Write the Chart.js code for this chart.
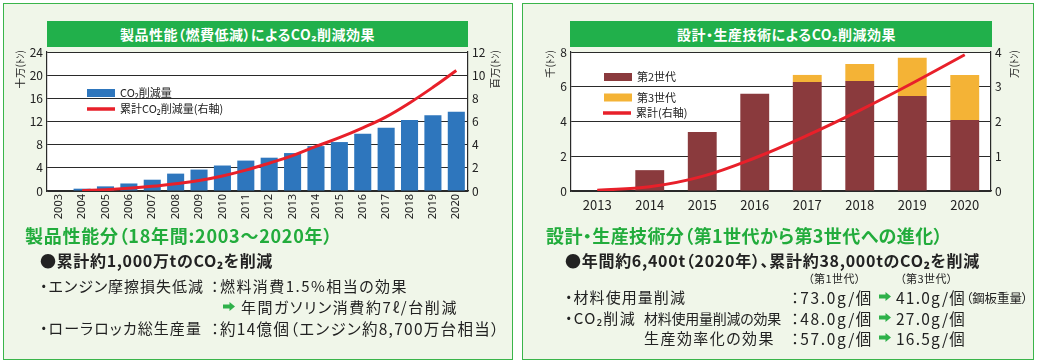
<!DOCTYPE html>
<html lang="ja">
<head>
<meta charset="utf-8">
<script src="https://cdn.jsdelivr.net/npm/chart.js@4.4.1/dist/chart.umd.min.js"></script>
<style>
  body { margin: 0; width: 1038px; height: 362px; background: #fff; position: relative; overflow: hidden;
         font-family: 'Noto Sans CJK JP', 'Noto Sans', sans-serif; color: #222; font-feature-settings: "palt"; }
  .panel { position: absolute; top: 3px; height: 357px; box-sizing: border-box; border: 1.5px solid #3ab54a; background: #f0f6e9; }
  .hdr { position: absolute; top: 21px; height: 26px; line-height: 26px; background: #21b04b; color: #fff;
         font-weight: bold; font-size: 14px; }
  .hdr span { position: absolute; white-space: nowrap; top: 0; }
  canvas { position: absolute; top: 0; }
  .t { position: absolute; white-space: nowrap; line-height: 20px; font-size: 15px; }
  .g { color: #22ac3c; font-weight: bold; font-size: 18px; }
  .b { font-weight: bold; font-size: 16px; }
  .s { font-size: 11px; line-height: 16px; }
  .v { font-size: 15.5px; }
  .arr { position: absolute; }
</style>
</head>
<body>
<div class="panel" style="left:3px;width:510px"></div>
<div class="panel" style="left:522px;width:512px"></div>
<div class="hdr" style="left:47px;width:421px"><span data-x0="73" data-x1="328">製品性能（燃費低減）によるCO₂削減効果</span></div>
<div class="hdr" style="left:570px;width:422px"><span data-x0="107" data-x1="326">設計・生産技術によるCO₂削減効果</span></div>

<canvas id="chart-left" width="519" height="240" style="left:0"></canvas>
<canvas id="chart-right" width="519" height="240" style="left:519px"></canvas>

<div class="t g" style="top:225px" data-x0="25" data-x1="333">製品性能分（18年間:2003～2020年）</div>
<div class="t b" style="top:250px" data-x0="40" data-x1="273">●累計約1,000万tのCO₂を削減</div>
<div class="t" style="top:276px" data-x0="40" data-x1="204">・エンジン摩擦損失低減</div>
<div class="t" style="top:276px" data-x0="211" data-x1="408">：燃料消費1.5%相当の効果</div>
<svg class="arr" style="left:223px;top:302px" width="12" height="9"><path d="M0 2.5h6.5V0l5.5 4.5-5.5 4.5V6.5H0z" fill="#2fb14a"/></svg>
<div class="t" style="top:297px" data-x0="241" data-x1="458">年間ガソリン消費約7ℓ/台削減</div>
<div class="t" style="top:318px" data-x0="40" data-x1="202">・ローラロッカ総生産量</div>
<div class="t" style="top:318px;font-size:15.5px" data-x0="211" data-x1="500">：約14億個（エンジン約8,700万台相当）</div>

<div class="t g" style="top:225px" data-x0="546" data-x1="943">設計・生産技術分（第1世代から第3世代への進化）</div>
<div class="t b" style="top:250px" data-x0="565" data-x1="980">●年間約6,400t（2020年）、累計約38,000tのCO₂を削減</div>
<div class="t s" style="top:270px" data-x0="808" data-x1="861">（第1世代）</div>
<div class="t s" style="top:270px" data-x0="900" data-x1="953">（第3世代）</div>

<div class="t" style="top:287px" data-x0="565" data-x1="686">・材料使用量削減</div>
<div class="t v" style="top:287px" data-x0="791" data-x1="873">：73.0g/個</div>
<svg class="arr" style="left:879px;top:292px" width="12" height="9"><path d="M0 2.5h6.5V0l5.5 4.5-5.5 4.5V6.5H0z" fill="#2fb14a"/></svg>
<div class="t v" style="top:287px" data-x0="896" data-x1="966">41.0g/個</div>
<div class="t" style="top:288px;font-size:12.5px" data-x0="966" data-x1="1028">（鋼板重量）</div>

<div class="t" style="top:308px" data-x0="565" data-x1="636">・CO₂削減</div>
<div class="t" style="top:308px;font-size:14px" data-x0="644" data-x1="781">材料使用量削減の効果</div>
<div class="t v" style="top:308px" data-x0="791" data-x1="873">：48.0g/個</div>
<svg class="arr" style="left:879px;top:313px" width="12" height="9"><path d="M0 2.5h6.5V0l5.5 4.5-5.5 4.5V6.5H0z" fill="#2fb14a"/></svg>
<div class="t v" style="top:308px" data-x0="896" data-x1="966">27.0g/個</div>

<div class="t" style="top:328px" data-x0="644" data-x1="775">生産効率化の効果</div>
<div class="t v" style="top:328px" data-x0="791" data-x1="873">：57.0g/個</div>
<svg class="arr" style="left:879px;top:333px" width="12" height="9"><path d="M0 2.5h6.5V0l5.5 4.5-5.5 4.5V6.5H0z" fill="#2fb14a"/></svg>
<div class="t v" style="top:328px" data-x0="896" data-x1="966">16.5g/個</div>

<script>
// left chart: product performance
const years1 = ['2003', '2004', '2005', '2006', '2007', '2008', '2009', '2010', '2011',
  '2012', '2013', '2014', '2015', '2016', '2017', '2018', '2019', '2020'];
const co2Reduction = [0, 0.4, 0.8, 1.3, 1.95, 3.0, 3.7, 4.4, 5.25, 5.75, 6.55, 7.75, 8.45, 9.9, 10.9, 12.25, 13.1, 13.7];
const co2Cumulative = [null, 0.03, 0.11, 0.23, 0.40, 0.63, 0.90, 1.30, 1.80, 2.40, 3.05, 3.85, 4.60, 5.45, 6.40, 7.60, 8.95, 10.4];
const leftTicks = [0, 4, 8, 12, 16, 20, 24];
const rightTicks1 = [0, 2, 4, 6, 8, 10, 12];

// right chart: design / production technology
const years2 = ['2013', '2014', '2015', '2016', '2017', '2018', '2019', '2020'];
const gen2 = [0, 1.2, 3.4, 5.6, 6.27, 6.33, 5.47, 4.09];
const gen3 = [0, 0, 0, 0, 0.41, 0.98, 2.2, 2.59];
const cumulative2 = [0.02, 0.12, 0.42, 0.95, 1.6, 2.32, 3.1, 3.92];
const leftTicks2 = [0, 2, 4, 6, 8];
const rightTicks2 = [0, 1, 2, 3, 4];

const FONT = "'Noto Sans CJK JP', 'Noto Sans', sans-serif";
const INK = '#222';
const BLUE = '#2e76bd';
const RED = '#e8202a';
const MAROON = '#8a3a3d';
const ORANGE = '#f4b336';

Chart.defaults.font.family = FONT;
Chart.defaults.color = INK;

// stretch each text run so it spans the same width as in the original
function fitText() {
  document.querySelectorAll('[data-x1]').forEach((el) => {
    const x0 = Number(el.dataset.x0);
    const target = Number(el.dataset.x1) - x0;
    const n = [...el.textContent].length;
    el.style.left = x0 + 'px';
    el.style.letterSpacing = '0px';
    const w = el.getBoundingClientRect().width;
    el.style.letterSpacing = ((target - w) / n) + 'px';
  });
}

const plotBg = {
  id: 'plotBg',
  beforeDraw(chart) {
    const a = chart.chartArea;
    const ctx = chart.ctx;
    ctx.save();
    ctx.fillStyle = '#fff';
    ctx.fillRect(a.left, a.top, a.right - a.left, a.bottom - a.top);
    ctx.restore();
  }
};

const boxLegend = {
  id: 'boxLegend',
  afterDraw(chart, args, opts) {
    const ctx = chart.ctx;
    ctx.save();
    ctx.font = `11px ${FONT}`;
    ctx.textBaseline = 'middle';
    opts.items.forEach((it) => {
      const ds = chart.data.datasets[it.ds];
      if (ds.type === 'line') {
        ctx.fillStyle = ds.borderColor;
        ctx.fillRect(it.x, it.y - 1.75, 28, 3.5);
      } else {
        ctx.fillStyle = ds.backgroundColor;
        ctx.fillRect(it.x, it.y - 4, 28, 8);
      }
      ctx.fillStyle = INK;
      ctx.fillText(ds.label, it.x + 33, it.y);
    });
    ctx.restore();
  }
};

// axis titles, both read bottom-to-top
const axisTitles = {
  id: 'axisTitles',
  afterDraw(chart, args, opts) {
    const ctx = chart.ctx;
    ctx.save();
    ctx.font = `10.5px ${FONT}`;
    ctx.fillStyle = INK;
    ctx.textAlign = 'right';
    ctx.textBaseline = 'middle';
    opts.items.forEach((it) => {
      ctx.save();
      ctx.translate(it.x, chart.chartArea.top - 2);
      ctx.rotate(-Math.PI / 2);
      ctx.fillText(it.text, 0, 0);
      ctx.restore();
    });
    ctx.restore();
  }
};

function yAxis(ticks, pos, width) {
  return {
    position: pos,
    min: ticks[0],
    max: ticks[ticks.length - 1],
    afterFit: (s) => { s.width = width; },
    afterBuildTicks: (s) => { s.ticks = ticks.map((v) => ({ value: v })); },
    grid: pos === 'left'
      ? { color: '#2a2a2a', lineWidth: 1, drawTicks: false }
      : { display: false, drawTicks: false },
    border: { display: true, color: '#2a2a2a', width: 1.2 },
    ticks: { font: { size: 12 }, color: INK, padding: 4 }
  };
}

function buildLeft() {
  new Chart(document.getElementById('chart-left'), {
    data: {
      labels: years1,
      datasets: [
        { type: 'line', label: '累計CO₂削減量(右軸)', data: co2Cumulative, yAxisID: 'y2', order: 0,
          borderColor: RED, borderWidth: 3, pointRadius: 0, tension: 0.4, fill: false },
        { type: 'bar', label: 'CO₂削減量', data: co2Reduction, yAxisID: 'y', order: 1,
          backgroundColor: BLUE, categoryPercentage: 1, barPercentage: 0.73 }
      ]
    },
    options: {
      responsive: false,
      animation: false,
      layout: { padding: { top: 52, bottom: 15, left: 0, right: 0 } },
      plugins: {
        legend: { display: false },
        tooltip: { enabled: false },
        boxLegend: { items: [{ ds: 1, x: 87, y: 93 }, { ds: 0, x: 87, y: 109 }] },
        axisTitles: { items: [{ text: '十万(ﾄﾝ)', x: 20 }, { text: '百万(ﾄﾝ)', x: 495 }] }
      },
      scales: {
        x: {
          afterFit: (s) => { s.height = 34; },
          grid: { display: false, drawTicks: false },
          border: { display: true, color: '#2a2a2a', width: 1.2 },
          ticks: { font: { family: "'Liberation Sans Narrow', 'Noto Sans', sans-serif", size: 11 }, color: INK,
            minRotation: 90, maxRotation: 90, autoSkip: false, padding: 3 }
        },
        y: yAxis(leftTicks, 'left', 47),
        y2: yAxis(rightTicks1, 'right', 51)
      }
    },
    plugins: [plotBg, boxLegend, axisTitles]
  });
}

function buildRight() {
  new Chart(document.getElementById('chart-right'), {
    data: {
      labels: years2,
      datasets: [
        { type: 'line', label: '累計(右軸)', data: cumulative2, yAxisID: 'y2', order: 0,
          borderColor: RED, borderWidth: 3, pointRadius: 0, tension: 0.4, fill: false },
        { type: 'bar', label: '第2世代', data: gen2, yAxisID: 'y', stack: 'g', order: 1,
          backgroundColor: MAROON, categoryPercentage: 1, barPercentage: 0.55 },
        { type: 'bar', label: '第3世代', data: gen3, yAxisID: 'y', stack: 'g', order: 1,
          backgroundColor: ORANGE, categoryPercentage: 1, barPercentage: 0.55 }
      ]
    },
    options: {
      responsive: false,
      animation: false,
      layout: { padding: { top: 52, bottom: 15, left: 0, right: 0 } },
      plugins: {
        legend: { display: false },
        tooltip: { enabled: false },
        boxLegend: { items: [{ ds: 1, x: 85, y: 77 }, { ds: 2, x: 85, y: 97.5 }, { ds: 0, x: 84, y: 113 }] },
        axisTitles: { items: [{ text: '千(ﾄﾝ)', x: 31 }, { text: '万(ﾄﾝ)', x: 495 }] }
      },
      scales: {
        x: {
          stacked: true,
          afterFit: (s) => { s.height = 34; },
          grid: { display: false, drawTicks: false },
          border: { display: true, color: '#2a2a2a', width: 1.2 },
          ticks: { font: { size: 13 }, color: INK, maxRotation: 0, autoSkip: false, padding: 6 }
        },
        y: { ...yAxis(leftTicks2, 'left', 52), stacked: true },
        y2: yAxis(rightTicks2, 'right', 47)
      }
    },
    plugins: [plotBg, boxLegend, axisTitles]
  });
}

fitText();
buildLeft();
buildRight();
</script>
</body>
</html>
